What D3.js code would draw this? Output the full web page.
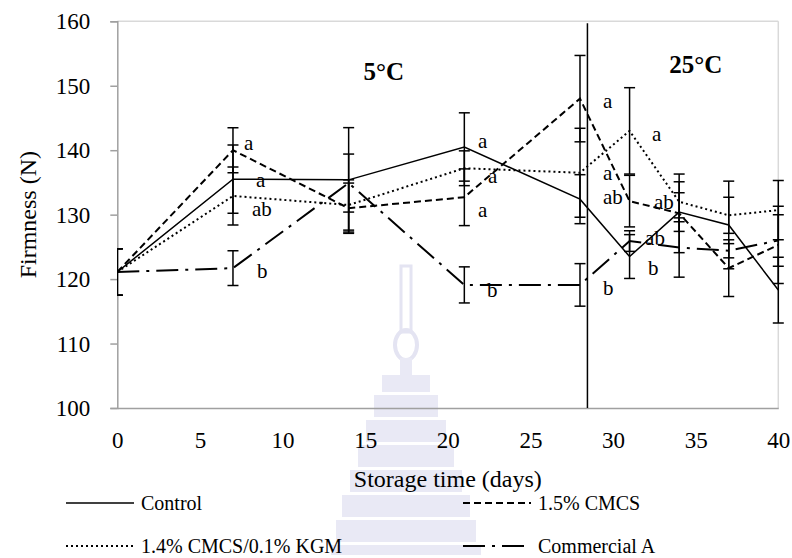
<!DOCTYPE html>
<html>
<head>
<meta charset="utf-8">
<script src="https://cdn.jsdelivr.net/npm/d3@7"></script>
<style>
  body { margin: 0; background: #fff; }
  text { font-family: "Liberation Serif", "Times New Roman", serif; fill: #000; }
</style>
</head>
<body>
<script>
// storage days and mean firmness (N) for each coating
const days = [0, 7, 14, 21, 28, 31, 34, 37, 40];
const control = [121.1, 135.5, 135.4, 140.5, 132.4, 123.5, 130.4, 128.4, 118.3];
const cmcs = [121.1, 140.0, 131.0, 132.7, 148.0, 132.1, 130.2, 121.7, 125.3];
const kgm = [121.1, 132.9, 131.5, 137.2, 136.5, 143.0, 132.0, 129.9, 130.7];
const commA = [121.1, 121.7, 134.9, 119.1, 119.1, 125.9, 124.9, 124.4, 126.0];

// error bar half-lengths
const controlErr = [3.6, 5.3, 8.1, 5.3, 3.8, 3.4, 3.0, 6.8, 5.1];
const cmcsErr = [3.6, 3.5, 3.9, 4.4, 6.7, 4.0, 6.1, 4.4, 6.0];
const kgmErr = [3.6, 4.5, 3.9, 2.7, 6.9, 6.7, 3.1, 2.8, 4.6];
const commAErr = [3.6, 2.7, 4.5, 2.8, 3.3, 1.6, 4.6, 1.1, 4.0];

const seriesNames = ["Control", "1.5% CMCS", "1.4% CMCS/0.1% KGM", "Commercial A"];

const xTicks = [0, 5, 10, 15, 20, 25, 30, 35, 40];
const yTicks = [100, 110, 120, 130, 140, 150, 160];

// significance letters (day, firmness at baseline)
const letterText = ["a", "a", "ab", "b", "a", "a", "a", "b", "a", "a", "ab", "b", "a", "ab", "ab", "b"];
const letterDay = [7.67, 8.39, 8.15, 8.45, 21.83, 22.43, 21.83, 22.37, 29.39, 29.39, 29.39, 29.39, 32.36, 32.48, 31.94, 32.12];
const letterVal = [140.0, 134.3, 129.8, 120.2, 140.3, 134.9, 129.6, 117.2, 146.5, 135.4, 131.6, 117.5, 141.4, 130.9, 125.3, 120.6];

// temperature phases
const phaseText = ["5°C", "25°C"];
const phaseDay = [14.9, 33.4];
const phaseVal = [150.9, 152.0];
const switchDay = 28.45;

const w = 792, h = 558;
const margin = { top: 21.3, right: 13.7, bottom: 150, left: 117.3 };

const svg = d3.select("body").append("svg")
  .attr("width", w).attr("height", h);

const x = d3.scaleLinear().domain([0, 40]).range([margin.left, w - margin.right]);
const y = d3.scaleLinear().domain([100, 160]).range([h - margin.bottom, margin.top]);

// faint watermark behind the chart
const wm = svg.append("g").attr("fill", "#e9e9f5");
const cx = 406;
[[375, 395, 48], [395, 420, 64], [420, 445, 80], [445, 470, 96], [470, 495, 112], [495, 520, 128], [520, 545, 140], [545, 558, 150]]
  .forEach(s => wm.append("rect").attr("x", cx - s[2] / 2).attr("y", s[0]).attr("width", s[2]).attr("height", s[1] - s[0] - 3));
wm.append("rect").attr("x", cx - 5).attr("y", 266).attr("width", 10).attr("height", 66)
  .attr("fill", "none").attr("stroke", "#e4e4f2").attr("stroke-width", 3);
wm.append("ellipse").attr("cx", cx).attr("cy", 345).attr("rx", 11).attr("ry", 15)
  .attr("fill", "none").attr("stroke", "#e4e4f2").attr("stroke-width", 4);
wm.append("rect").attr("x", cx - 6).attr("y", 358).attr("width", 12).attr("height", 18);

// plot frame
svg.append("line").attr("x1", x(0)).attr("x2", x(40)).attr("y1", y(160)).attr("y2", y(160))
  .attr("stroke", "#d9d9d9").attr("stroke-width", 1.5);
svg.append("line").attr("x1", x(40)).attr("x2", x(40)).attr("y1", y(160)).attr("y2", y(100))
  .attr("stroke", "#d9d9d9").attr("stroke-width", 1.5);

const yAxis = svg.append("g").attr("transform", `translate(${x(0)},0)`)
  .call(d3.axisLeft(y).tickValues(yTicks).tickSize(7).tickPadding(20).tickFormat(d3.format("d")));
yAxis.select(".domain").attr("stroke", "#a0a0a0").attr("stroke-width", 1.5);
yAxis.selectAll(".tick line").attr("stroke", "#a0a0a0").attr("stroke-width", 1.5);
yAxis.selectAll("text").style("font-size", "23px").style("font-family", "Liberation Serif").attr("dy", "0.33em");

const xAxis = svg.append("g").attr("transform", `translate(0,${y(100)})`)
  .call(d3.axisBottom(x).tickValues(xTicks).tickSize(0).tickPadding(24).tickFormat(d3.format("d")));
xAxis.select(".domain").attr("stroke", "#a0a0a0").attr("stroke-width", 1.5);
xAxis.selectAll("text").style("font-size", "23px").style("font-family", "Liberation Serif");

svg.append("text").attr("x", (x(0) + x(40)) / 2).attr("y", 487)
  .attr("text-anchor", "middle").style("font-size", "24px").text("Storage time (days)");
svg.append("text").attr("transform", `translate(36,${(y(100) + y(160)) / 2}) rotate(-90)`)
  .attr("text-anchor", "middle").style("font-size", "24px").text("Firmness (N)");

// temperature switch
svg.append("line").attr("x1", x(switchDay)).attr("x2", x(switchDay))
  .attr("y1", y(160) + 2).attr("y2", y(100))
  .attr("stroke", "#000").attr("stroke-width", 1.5);

svg.selectAll("text.phase").data(phaseText).join("text").attr("class", "phase")
  .attr("x", (d, i) => x(phaseDay[i])).attr("y", (d, i) => y(phaseVal[i]))
  .style("font-size", "25px").style("font-weight", "bold").text(d => d);

svg.append("clipPath").attr("id", "plotclip").append("rect")
  .attr("x", x(0)).attr("y", 0).attr("width", x(40) - x(0) + 12).attr("height", h);

const series = [
  { vals: control, err: controlErr, dash: null, sw: 1.5 },
  { vals: cmcs, err: cmcsErr, dash: "7,4", sw: 2 },
  { vals: kgm, err: kgmErr, dash: "2,3", sw: 2 },
  { vals: commA, err: commAErr, dash: "22,7,3,7", sw: 2 }
];

const line = d3.line().x((d, i) => x(days[i])).y(d => y(d));
const plot = svg.append("g").attr("clip-path", "url(#plotclip)");

series.forEach(s => {
  const eb = plot.append("g").attr("stroke", "#000").attr("stroke-width", 1.5);
  days.forEach((d, i) => {
    const top = y(s.vals[i] + s.err[i]), bot = y(s.vals[i] - s.err[i]);
    eb.append("line").attr("x1", x(d)).attr("x2", x(d)).attr("y1", top).attr("y2", bot);
    eb.append("line").attr("x1", x(d) - 5.5).attr("x2", x(d) + 5.5).attr("y1", top).attr("y2", top);
    eb.append("line").attr("x1", x(d) - 5.5).attr("x2", x(d) + 5.5).attr("y1", bot).attr("y2", bot);
  });
});

series.forEach(s => {
  plot.append("path").datum(s.vals).attr("d", line)
    .attr("fill", "none").attr("stroke", "#000").attr("stroke-width", s.sw)
    .attr("stroke-dasharray", s.dash);
});

svg.selectAll("text.letter").data(letterText).join("text").attr("class", "letter")
  .attr("x", (d, i) => x(letterDay[i])).attr("y", (d, i) => y(letterVal[i]))
  .style("font-size", "21px").text(d => d);

// legend
const legX = [66, 463, 66, 463];
const legY = [503, 503, 546, 546];
const lg = svg.append("g");
series.forEach((s, i) => {
  lg.append("line").attr("x1", legX[i]).attr("x2", legX[i] + 68).attr("y1", legY[i]).attr("y2", legY[i])
    .attr("stroke", "#000").attr("stroke-width", s.sw).attr("stroke-dasharray", s.dash);
  lg.append("text").attr("x", legX[i] + 75).attr("y", legY[i] + 7)
    .style("font-size", "20px").text(seriesNames[i]);
});
</script>
</body>
</html>
